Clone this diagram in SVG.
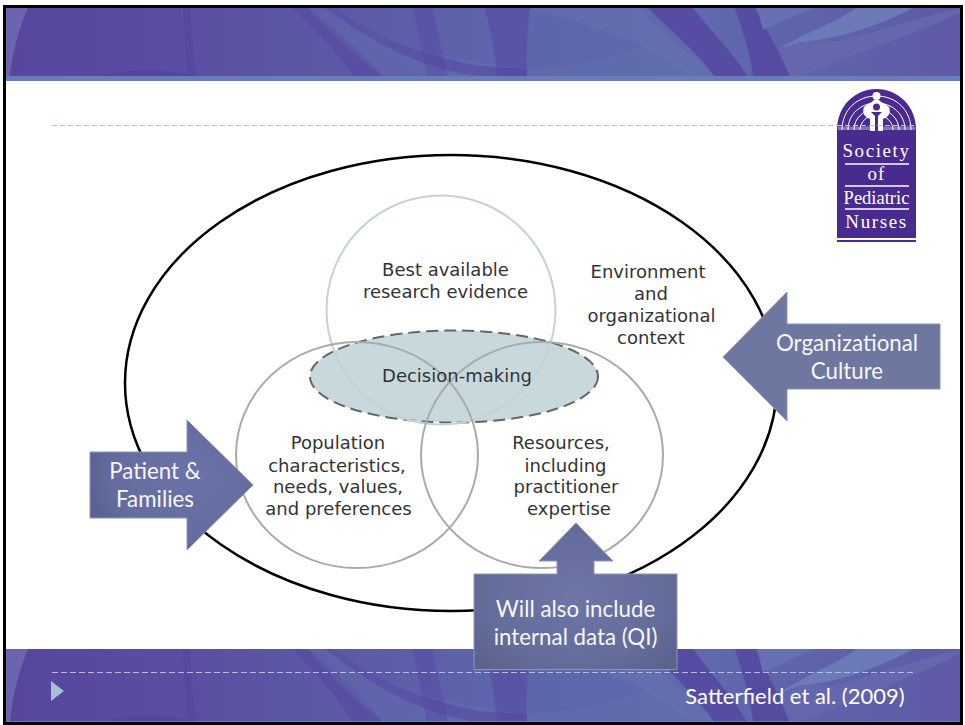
<svg xmlns="http://www.w3.org/2000/svg" width="965" height="725" viewBox="0 0 965 725">
<style>
.lab{font-family:"DejaVu Sans",Verdana,sans-serif;font-size:18px;fill:#333;text-anchor:middle}
.call{font-family:"Lato","Open Sans",sans-serif;font-size:22.3px;fill:#f6f6fa;text-anchor:middle}
.logo{font-family:"Liberation Serif",serif;fill:#fff;text-anchor:middle}
.rule{stroke:#fff;stroke-width:1.5}
.ring{fill:none;stroke-width:2}
.arc{fill:none;stroke:#fff;stroke-width:1}
.dark{fill:#5343a0}
.block{stroke:#8d95bd;stroke-width:1}
</style>
<defs>
<linearGradient id="bg" x1="0" y1="0" x2="1" y2="0"><stop offset="0" stop-color="#57459d"/><stop offset=".2" stop-color="#5a4fa2"/><stop offset=".5" stop-color="#5d64ab"/><stop offset=".72" stop-color="#5f6aad"/><stop offset="1" stop-color="#5e5aa8"/></linearGradient>
<radialGradient id="box" cx=".5" cy=".5" r=".7"><stop offset="0" stop-color="#6e75a8"/><stop offset=".6" stop-color="#656d9c"/><stop offset="1" stop-color="#596288"/></radialGradient>
<radialGradient id="pat" cx=".6" cy=".45" r=".65"><stop offset="0" stop-color="#6a72a8"/><stop offset=".7" stop-color="#656c9f"/><stop offset="1" stop-color="#586090"/></radialGradient>
<clipPath id="bandclip"><rect x="5" y="8" width="956" height="68"/></clipPath>
<g id="ribbons" clip-path="url(#bandclip)">
<rect x="5" y="8" width="956" height="68" fill="url(#bg)"/>
<path d="M5 8H28C18 30 12 55 10 76H5Z" fill="#6a65ae"/>
<path class="dark" opacity=".45" d="M183 8H190C191 35 194 60 198 76H188C186 55 184 30 183 8Z"/>
<path class="dark" opacity=".7" d="M100 76Q150 64 197 76Z"/>
<path fill="#6470b2" opacity=".4" d="M337 8C370 35 420 58 527 68C570 68 620 58 647 44C680 60 690 70 692 76H383C360 50 330 25 308 8Z"/>
<path class="dark" opacity=".5" d="M293 8H308C325 30 355 55 383 76H353C335 50 315 30 293 8Z"/>
<path class="dark" opacity=".5" d="M325 8H337C365 32 415 54 480 66L527 69V76H480C420 70 370 40 325 8Z"/>
<path class="dark" opacity=".35" d="M413 8H432L448 76H427Z"/>
<path class="dark" opacity=".45" d="M485 8H530C527 30 526 55 527 76H497C495 50 490 30 485 8Z"/>
<path fill="#6b78b4" opacity=".35" d="M530 8H640C650 25 700 60 715 76H690C670 60 640 40 600 30C580 22 550 14 530 8Z"/>
<path class="dark" opacity=".75" d="M648 8H693C710 30 735 55 747 76H714C700 55 670 30 648 8Z"/>
<path class="dark" opacity=".75" d="M735 8H755C770 35 783 60 790 76H753C750 50 742 30 735 8Z"/>
<path fill="#6870b4" d="M757 8H813L763 30Z"/>
<path fill="#6c7ab8" d="M857 8H913C870 30 830 40 800 42L778 50C800 35 830 25 857 8Z"/>
<path fill="#6567ae" d="M778 50L800 42L840 41C880 30 930 15 961 8V12C900 40 840 60 800 76H790Z"/>
</g>
<clipPath id="dome"><path d="M837 130C837 106 855 89 876.500 89C898 89 916 106 916 130Z"/></clipPath>
</defs>
<rect width="965" height="725" fill="#fff"/>
<g id="banner-top"><use href="#ribbons"/><rect x="5" y="76" width="956" height="5" fill="#6a7dbb"/></g>
<g id="banner-bottom"><use href="#ribbons" transform="translate(0,640.400) scale(1,1.0735)"/><rect x="5" y="721" width="956" height="1.500" fill="#6a7dbb"/></g>
<line id="rule-top" x1="52" y1="125.500" x2="915" y2="125.500" stroke="#a9bfd8" stroke-width="1" stroke-dasharray="5 3"/>
<line id="rule-bottom" x1="52" y1="672.500" x2="915" y2="672.500" stroke="#b3bbe0" stroke-width="1" stroke-dasharray="6 3"/>
<path id="play" d="M51 681L64 691L51 701Z" fill="#a9c0d4"/>
<g id="logo">
<path d="M837 238V130C837 106 855 89 876.500 89C898 89 916 106 916 130V238Z" fill="#4a2a8e"/>
<rect x="837" y="240" width="79" height="2" fill="#4a2a8e"/>
<g clip-path="url(#dome)">
<path class="arc" d="M842 130C842 110 857 96 876.500 96C896 96 911 110 911 130M848 130C848 114 861 103 876.500 103C892 103 905 114 905 130M854 130C854 118 864 109 876.500 109C889 109 899 118 899 130M860 130C860 122 867 115 876.500 115C886 115 893 122 893 130"/>
</g>
<path d="M838 126.500H915V130H838Z" fill="#fff" opacity=".35"/>
<path d="M870 131V119C864 117 862 112 864 107C868 104 871 103 874 100H879C882 103 885 104 889 107C891 112 889 117 883 119V131Z" fill="#fff"/>
<circle cx="876.500" cy="96" r="4" fill="#fff"/>
<circle cx="876.500" cy="107" r="3.500" fill="#4a2a8e"/>
<path d="M871 112H882L878 116V131H875V116Z" fill="#4a2a8e"/>
<line x1="837" y1="125.500" x2="916" y2="125.500" stroke="#a9d0e0" stroke-width="1" stroke-dasharray="5 3"/>
<text class="logo" x="876.500" y="157" font-size="19" letter-spacing="1.600">Society</text>
<line class="rule" x1="845" y1="164" x2="909" y2="164"/>
<text class="logo" x="876.500" y="180" font-size="19" letter-spacing="1">of</text>
<line class="rule" x1="845" y1="186" x2="909" y2="186"/>
<text class="logo" x="876.500" y="204" font-size="18.500">Pediatric</text>
<line class="rule" x1="845" y1="209" x2="909" y2="209"/>
<text class="logo" x="876.500" y="228" font-size="19" letter-spacing="1.600">Nurses</text>
</g>
<g id="node-context"><ellipse cx="451" cy="383" rx="326" ry="228" fill="none" stroke="#000" stroke-width="2.500"/>
<text class="lab"><tspan x="648" y="278">Environment</tspan><tspan x="651" y="300">and</tspan><tspan x="651.500" y="322">organizational</tspan><tspan x="651" y="344">context</tspan></text></g>
<g id="node-decision"><ellipse cx="454" cy="376.500" rx="144" ry="46" fill="#c7d9dc" stroke="#666" stroke-width="2" stroke-dasharray="12 6"/></g>
<g id="node-evidence"><circle class="ring" cx="441" cy="310" r="114.500" stroke="#c3d3d2"/>
<text class="lab"><tspan x="445.500" y="276">Best available</tspan><tspan x="445.500" y="298">research evidence</tspan></text></g>
<g id="node-population"><ellipse class="ring" cx="357" cy="455" rx="121" ry="113" stroke="#aaa"/>
<text class="lab"><tspan x="338" y="449">Population</tspan><tspan x="337" y="472">characteristics,</tspan><tspan x="338" y="493">needs, values,</tspan><tspan x="338.500" y="515">and preferences</tspan></text></g>
<g id="node-resources"><ellipse class="ring" cx="542" cy="455" rx="121" ry="113" stroke="#aaa"/>
<text class="lab"><tspan x="561" y="449">Resources,</tspan><tspan x="565.500" y="472">including</tspan><tspan x="566" y="493">practitioner</tspan><tspan x="569" y="515">expertise</tspan></text></g>
<text class="lab" x="457" y="382" id="label-decision">Decision-making</text>
<g id="connectors">
<g id="arrow-org"><path class="block" d="M940 324V389H787V421L723 357L787 292V324Z" fill="#6e779f"/>
<text class="call"><tspan x="847" y="351">Organizational</tspan><tspan x="847" y="379">Culture</tspan></text></g>
<g id="arrow-patient"><path class="block" d="M90 452H187V420L253 485L187 550V518H90Z" fill="url(#pat)"/>
<text class="call"><tspan x="155" y="479">Patient &amp;</tspan><tspan x="155" y="507">Families</tspan></text></g>
<g id="arrow-data"><path class="block" d="M474 574H557V561H539L576 523L613 561H594V574H677V669.500H474Z" fill="url(#box)"/>
<text class="call"><tspan x="575.500" y="617">Will also include</tspan><tspan x="575.500" y="645">internal data (QI)</tspan></text></g>
</g>
<text id="citation" x="795" y="704" font-family="Lato,'Open Sans',sans-serif" font-size="22" fill="#fff" text-anchor="middle">Satterfield et al. (2009)</text>
<path id="frame" d="M4.500 725V6.500H961.500V723.500H4.500" fill="none" stroke="#000" stroke-width="3"/>
</svg>
